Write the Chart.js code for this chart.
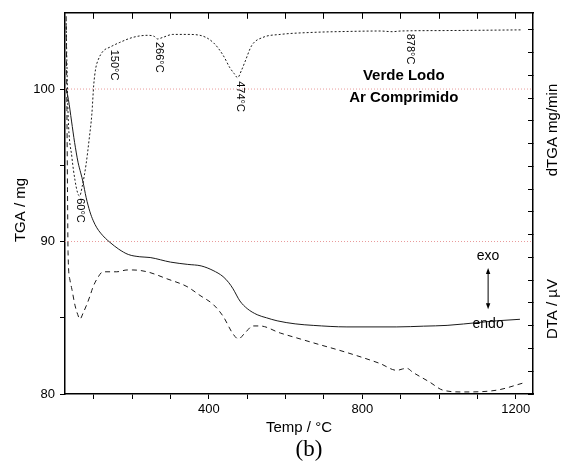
<!DOCTYPE html>
<html>
<head>
<meta charset="utf-8">
<script src="https://cdn.jsdelivr.net/npm/chart.js@4.4.0/dist/chart.umd.min.js"></script>
<style>
  html, body { margin: 0; padding: 0; background: #fff; }
</style>
</head>
<body>
<canvas id="thermoChart" width="568" height="470"></canvas>
<script>
// TGA mass loss (mg) against temperature
const tgaTemp = [28,34,42,50,59,66,72,80,90,98,108,118,130,142,165,190,220,247,300,345,380,411,437,452,463,481,500,526,550,578,625,672,760,890,960,1021,1107,1150,1211];
const tgaMass = [100.0,99.3,97.9,96.5,95.2,94.5,93.9,92.9,91.95,91.4,90.9,90.55,90.22,89.95,89.5,89.15,89.0,88.95,88.65,88.5,88.4,88.1,87.7,87.3,86.9,86.1,85.6,85.2,85.0,84.8,84.6,84.5,84.4,84.4,84.45,84.5,84.7,84.8,84.9];

// derivative curve, right-hand (unlabelled) axis units
const dtgaTemp = [28,30,33,43,51,58,63,70,80,88,95,100,105,112,124,142,168,202,239,258,266,280,306,343,377,411,437,455,466,475,485,494,512,541,586,672,760,846,878,900,1020,1216];
const dtgaSignal = [16.3,14.5,12.3,10.4,9.4,8.83,8.7,9.13,10.1,11.2,12.3,13.6,14.3,14.7,15.06,15.24,15.45,15.67,15.76,15.71,15.6,15.67,15.8,15.8,15.76,15.45,14.89,14.33,14.08,13.9,14.22,14.59,15.32,15.67,15.8,15.89,15.93,15.95,15.92,15.95,15.97,16.0];

// DTA signal, same right-hand axis
const dtaTemp = [28,30,31.5,33,38,43,51,58,64,72,82,90,98,110,124,160,187,202,239,291,343,377,411,437,463,477,495,515,533,586,638,672,760,846,890,905,916,932,976,1010,1062,1151,1219];
const dtaSignal = [16.6,12.5,9.0,6.2,5.0,4.6,3.9,3.5,3.29,3.55,3.94,4.3,4.7,5.1,5.37,5.37,5.45,5.45,5.37,5.06,4.72,4.33,3.94,3.42,2.64,2.42,2.7,2.99,2.99,2.68,2.42,2.25,1.82,1.34,1.04,1.1,1.13,0.95,0.52,0.17,0.09,0.17,0.48];

const peakTemps = [60, 150, 266, 474, 878];
const refLevels = [100, 90];
const tempRange = [25, 1245];
const massRange = [80, 105];
const signalRange = [0, 16.75];
const sampleName = ['Verde Lodo', 'Ar Comprimido'];

// label offsets from the dTGA curve, px
const peakNudge = [[2, 4], [1, 4], [1.5, 3], [2.7, 4], [18, 2]];

Chart.defaults.font.family = '"Liberation Sans", Arial, sans-serif';
Chart.defaults.color = '#000';

const toPoints = (xs, ys) => xs.map((t, i) => ({ x: t, y: ys[i] }));

function valueAt(xs, ys, t) {
  for (let i = 1; i < xs.length; i++) {
    if (t <= xs[i]) {
      const f = (t - xs[i - 1]) / (xs[i] - xs[i - 1]);
      return ys[i - 1] + f * (ys[i] - ys[i - 1]);
    }
  }
  return ys[ys.length - 1];
}

const curve = { pointRadius: 0, borderWidth: 1, fill: false, cubicInterpolationMode: 'monotone' };
const axisBorder = { color: '#000', width: 1.5 };

const annotate = {
  id: 'annotate',
  afterDraw(chart) {
    const { ctx, chartArea: area, scales: { x, y, y2 } } = chart;
    const font = (size, weight) => `${weight || ''} ${size}px "Liberation Sans", Arial, sans-serif`;
    const vText = (text, cx, cy) => {
      ctx.save();
      ctx.translate(cx, cy);
      ctx.rotate(-Math.PI / 2);
      ctx.fillText(text, 0, 0);
      ctx.restore();
    };
    ctx.save();
    ctx.fillStyle = '#000';
    ctx.strokeStyle = '#000';

    // peak temperatures, written downward just under the dTGA curve
    ctx.font = font(11);
    ctx.textAlign = 'left';
    ctx.textBaseline = 'middle';
    peakTemps.forEach((t, i) => {
      const px = x.getPixelForValue(t) + peakNudge[i][0];
      const py = y2.getPixelForValue(valueAt(dtgaTemp, dtgaSignal, t)) + peakNudge[i][1];
      ctx.save();
      ctx.translate(px, py);
      ctx.rotate(Math.PI / 2);
      ctx.fillText(t + '°C', 0, 0);
      ctx.restore();
    });

    ctx.textAlign = 'center';
    ctx.font = font(15, 'bold');
    sampleName.forEach((line, i) => {
      ctx.fillText(line, x.getPixelForValue(908), y.getPixelForValue(100.87) + i * 22);
    });

    // exo / endo direction marker
    const ax = x.getPixelForValue(1128);
    const top = y.getPixelForValue(88.27);
    const bot = y.getPixelForValue(85.56);
    ctx.font = font(14);
    ctx.fillText('exo', ax, y.getPixelForValue(89.04));
    ctx.fillText('endo', ax, y.getPixelForValue(84.59));
    ctx.lineWidth = 1;
    ctx.beginPath();
    ctx.moveTo(ax, top + 4);
    ctx.lineTo(ax, bot - 4);
    ctx.stroke();
    [[top, 1], [bot, -1]].forEach(([tip, dir]) => {
      ctx.beginPath();
      ctx.moveTo(ax, tip);
      ctx.lineTo(ax - 2.2, tip + dir * 6);
      ctx.lineTo(ax + 2.2, tip + dir * 6);
      ctx.closePath();
      ctx.fill();
    });

    // axis titles
    ctx.font = font(15);
    vText('TGA / mg', 21, 210);
    vText('dTGA mg/min', area.right + 20, 130);
    vText('DTA / µV', area.right + 20, 309);

    ctx.font = '23px "Liberation Serif", "Times New Roman", serif';
    ctx.fillText('(b)', 309, 450);
    ctx.restore();
  }
};

new Chart(document.getElementById('thermoChart'), {
  type: 'line',
  data: {
    datasets: [
      ...refLevels.map(level => ({
        data: [{ x: tempRange[0], y: level }, { x: tempRange[1], y: level }],
        yAxisID: 'y', borderColor: '#e99a9a', borderDash: [1, 2], borderWidth: 1, pointRadius: 0
      })),
      { label: 'TGA', data: toPoints(tgaTemp, tgaMass), yAxisID: 'y', borderColor: '#1a1a1a', ...curve },
      { label: 'dTGA', data: toPoints(dtgaTemp, dtgaSignal), yAxisID: 'y2', borderColor: '#1a1a1a', borderDash: [2, 2], ...curve },
      { label: 'DTA', data: toPoints(dtaTemp, dtaSignal), yAxisID: 'y2', borderColor: '#1a1a1a', borderDash: [5, 4], ...curve }
    ]
  },
  options: {
    responsive: false,
    animation: false,
    events: [],
    layout: { padding: { top: 7, left: 0, right: 0, bottom: 0 } },
    plugins: { legend: { display: false }, tooltip: { enabled: false } },
    scales: {
      x: {
        type: 'linear', min: tempRange[0], max: tempRange[1],
        ticks: { stepSize: 100, includeBounds: false, autoSkip: false, maxRotation: 0, padding: 3,
                 font: { size: 13 }, callback: v => (v % 400 === 0 ? v : '') },
        grid: { drawOnChartArea: false, tickLength: 5, color: '#000' },
        border: axisBorder,
        title: { display: true, text: 'Temp / °C', font: { size: 15 }, padding: { top: 0, bottom: 33 } },
        afterFit: s => { s.height = 76; }
      },
      xTop: {
        type: 'linear', axis: 'x', position: 'top', min: tempRange[0], max: tempRange[1],
        ticks: { display: false, stepSize: 100, includeBounds: false },
        grid: { drawOnChartArea: false, tickLength: -6, color: '#000' },
        border: axisBorder,
        afterFit: s => { s.height = 0; }
      },
      y: {
        min: massRange[0], max: massRange[1],
        ticks: { stepSize: 5, padding: 5, font: { size: 13 }, callback: v => (v % 10 === 0 ? v : '') },
        afterBuildTicks: s => { s.ticks = s.ticks.filter(t => t.value <= 100); },
        grid: { drawOnChartArea: false, tickLength: 5, color: '#000' },
        border: axisBorder,
        afterFit: s => { s.width = 65; }
      },
      y2: {
        position: 'right', min: signalRange[0], max: signalRange[1],
        ticks: { display: false, stepSize: 1, includeBounds: false },
        grid: { drawOnChartArea: false, tickLength: -5, color: '#000' },
        border: axisBorder,
        afterFit: s => { s.width = 35; }
      }
    }
  },
  plugins: [annotate]
});
</script>
</body>
</html>
